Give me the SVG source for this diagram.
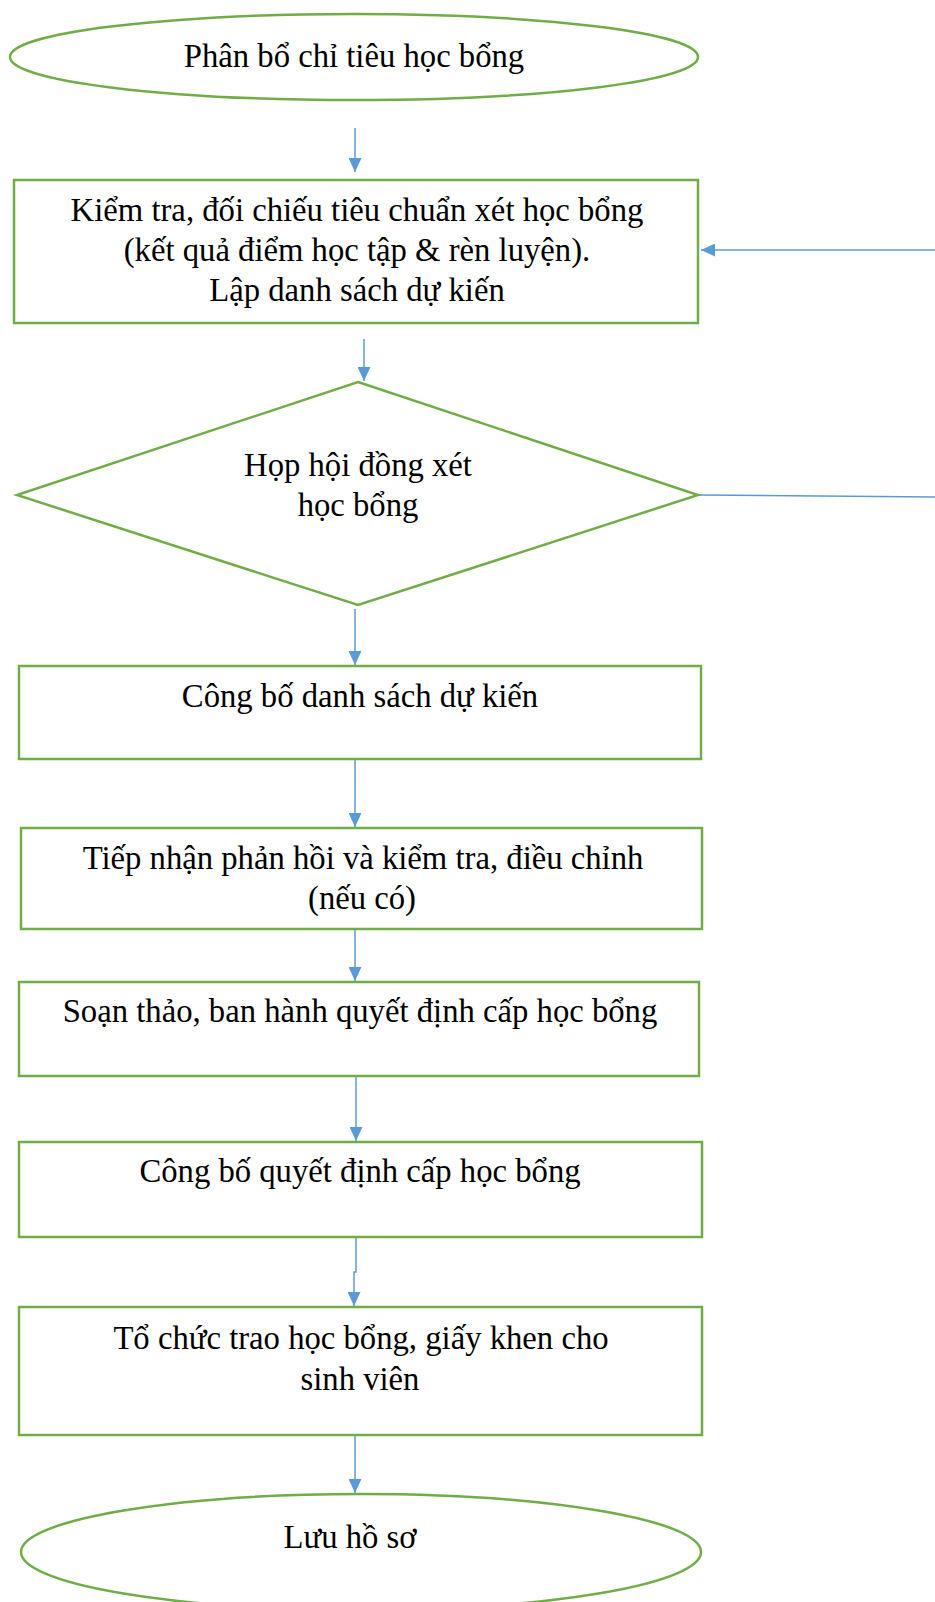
<svg xmlns="http://www.w3.org/2000/svg" width="935" height="1602" viewBox="0 0 935 1602">
  <defs>
    <marker id="arrowBig" viewBox="0 0 10 10" refX="10" refY="5" markerWidth="14" markerHeight="13" markerUnits="userSpaceOnUse" orient="auto" preserveAspectRatio="none">
      <path d="M0,0 L10,5 L0,10 Z" fill="#5B9BD5"/>
    </marker>
  </defs>
  <style>
    .shape { fill: #FFFFFF; stroke: #70AD47; stroke-width: 2.5; }
    .label { font-family: "Liberation Serif", "Times New Roman", serif; font-size: 32.7px; fill: #000000; text-anchor: middle; }
    .flow { fill: none; stroke: #5B9BD5; stroke-width: 1.5; marker-end: url(#arrowBig); }
    .back { fill: none; stroke: #5B9BD5; stroke-width: 1.5; }
  </style>
  <rect width="935" height="1602" fill="#FFFFFF"/>

  <g id="connectors">
    <path class="flow" d="M355,128 L355,172"/>
    <path class="flow" d="M364,339 L364,381"/>
    <path class="flow" d="M355,609 L355,665"/>
    <path class="flow" d="M355,759 L355,827"/>
    <path class="flow" d="M355,929 L355,981"/>
    <path class="flow" d="M356,1076 L356,1141"/>
    <path class="flow" d="M356,1237 L356,1272 L354,1272 L354,1306"/>
    <path class="flow" d="M355,1435 L355,1493"/>
    <path class="flow" d="M935,250 L701,250"/>
    <path class="back" stroke="#4F7FCB" d="M698,495 L935,497"/>
  </g>

  <g id="start">
    <ellipse class="shape" cx="354" cy="57" rx="344" ry="43"/>
    <text class="label" x="354" y="67">Phân bổ chỉ tiêu học bổng</text>
  </g>

  <g id="check">
    <rect class="shape" x="14" y="180" width="684" height="143"/>
    <text class="label" x="357" y="221">Kiểm tra, đối chiếu tiêu chuẩn xét học bổng</text>
    <text class="label" x="357" y="261">(kết quả điểm học tập &amp; rèn luyện).</text>
    <text class="label" x="357" y="301">Lập danh sách dự kiến</text>
  </g>

  <g id="council">
    <polygon class="shape" points="358,382 698,495 358,605 17,495"/>
    <text class="label" x="358" y="476">Họp hội đồng xét</text>
    <text class="label" x="358" y="516">học bổng</text>
  </g>

  <g id="announce-list">
    <rect class="shape" x="19" y="666" width="682" height="93"/>
    <text class="label" x="360" y="707">Công bố danh sách dự kiến</text>
  </g>

  <g id="feedback">
    <rect class="shape" x="21" y="828" width="681" height="101"/>
    <text class="label" x="363" y="869">Tiếp nhận phản hồi và kiểm tra, điều chỉnh</text>
    <text class="label" x="362" y="909">(nếu có)</text>
  </g>

  <g id="draft-decision">
    <rect class="shape" x="19" y="982" width="680" height="94"/>
    <text class="label" x="360" y="1022">Soạn thảo, ban hành quyết định cấp học bổng</text>
  </g>

  <g id="announce-decision">
    <rect class="shape" x="19" y="1142" width="683" height="95"/>
    <text class="label" x="360" y="1182">Công bố quyết định cấp học bổng</text>
  </g>

  <g id="ceremony">
    <rect class="shape" x="19" y="1307" width="683" height="128"/>
    <text class="label" x="361" y="1349">Tổ chức trao học bổng, giấy khen cho</text>
    <text class="label" x="360" y="1390">sinh viên</text>
  </g>

  <g id="archive">
    <ellipse class="shape" cx="361" cy="1552" rx="340" ry="58"/>
    <text class="label" x="350" y="1548">Lưu hồ sơ</text>
  </g>
</svg>
